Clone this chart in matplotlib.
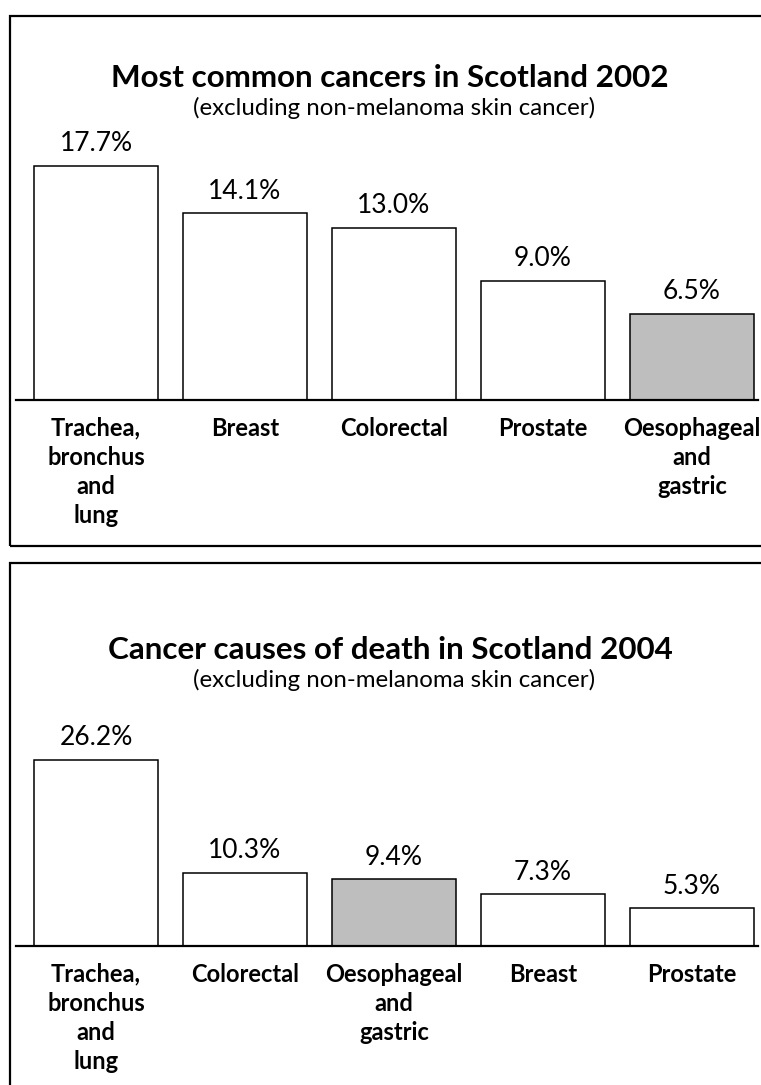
import matplotlib.pyplot as plt
from matplotlib.patches import Rectangle

# incidence 2002
inc_labels = ["Trachea,\nbronchus\nand\nlung", "Breast", "Colorectal", "Prostate", "Oesophageal\nand\ngastric"]
inc_values = [17.7, 14.1, 13.0, 9.0, 6.5]
inc_highlight = [False, False, False, False, True]

# deaths 2004
death_labels = ["Trachea,\nbronchus\nand\nlung", "Colorectal", "Oesophageal\nand\ngastric", "Breast", "Prostate"]
death_values = [26.2, 10.3, 9.4, 7.3, 5.3]
death_highlight = [False, False, True, False, False]

W, H = 761, 1085
plt.rcParams['font.family'] = ['Lato', 'DejaVu Sans']
fig = plt.figure(figsize=(W / 100, H / 100), dpi=100)


def px_box(x0, y0, x1, y1):
    # pixel coords (top-left origin) -> figure fraction rect
    return [x0 / W, 1 - y1 / H, (x1 - x0) / W, (y1 - y0) / H]


def panel(box_top, box_bottom, base_y, top_y, ymax, title, title_y, labels, values, highlight):
    # frame around panel (right side runs off the page)
    fig.patches.append(Rectangle((10 / W, 1 - box_bottom / H), 800 / W, (box_bottom - box_top) / H,
                                 transform=fig.transFigure, fill=False, lw=1.6, ec='black'))
    fig.text(390 / W, 1 - title_y / H, title, ha='center', va='center',
             fontsize=22.6, fontweight='bold')
    fig.text(394 / W, 1 - (title_y + 30) / H, "(excluding non-melanoma skin cancer)",
             ha='center', va='center', fontsize=17.3)

    ax = fig.add_axes(px_box(16, top_y, 758, base_y))
    x = list(range(len(values)))
    colors = ['#bebebe' if h else 'white' for h in highlight]
    bars = ax.bar(x, values, width=0.83, color=colors, edgecolor='black', linewidth=1.1)
    for b, v in zip(bars, values):
        ax.annotate(f"{v:.1f}%", (b.get_x() + b.get_width() / 2, v), xytext=(0, 10.5),
                    textcoords='offset points', ha='center', va='baseline', fontsize=19)
    ax.set_xlim(-0.537, 4.443)
    ax.set_ylim(0, ymax)
    ax.set_xticks(x)
    ax.set_xticklabels(labels, fontsize=17, fontweight='bold', linespacing=1.33)
    ax.tick_params(axis='x', length=0, pad=12)
    ax.set_yticks([])
    for s in ['top', 'left', 'right']:
        ax.spines[s].set_visible(False)
    ax.spines['bottom'].set_linewidth(1.6)
    ax.patch.set_alpha(0)


panel(16, 546, 400, 130, 270 / 13.23, "Most common cancers in Scotland 2002", 78,
      inc_labels, inc_values, inc_highlight)
panel(563, 1200, 946, 700, 246 / 7.1, "Cancer causes of death in Scotland 2004", 650,
      death_labels, death_values, death_highlight)

fig.savefig("out.png", dpi=100)
